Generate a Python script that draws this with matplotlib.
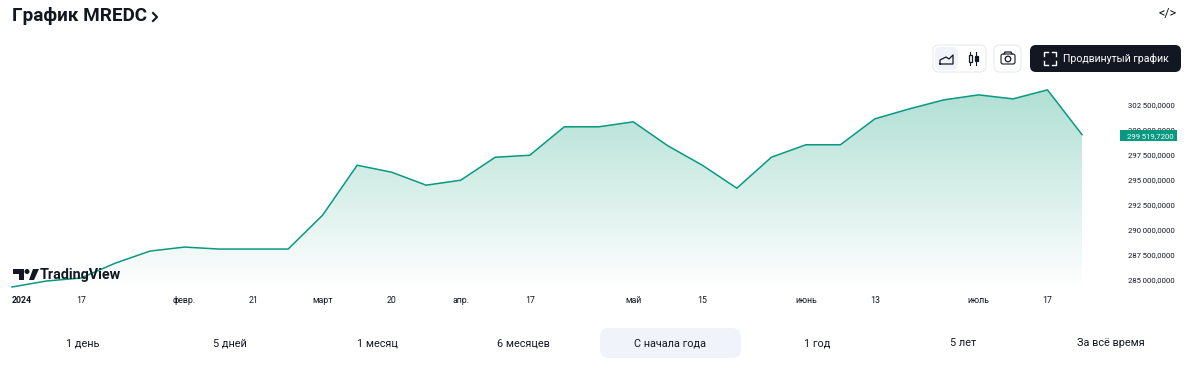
# -*- coding:utf-8 -*-
import matplotlib
matplotlib.use("Agg")
import matplotlib.pyplot as plt
import numpy as np
from matplotlib.patches import FancyBboxPatch, Polygon, Circle, Rectangle

plt.rcParams['font.family'] = ['Roboto', 'DejaVu Sans']

# weekly values, millions
values = [284.25, 284.85, 285.15, 286.65, 287.85, 288.25, 288.05, 288.05,
          288.05, 291.45, 296.45, 295.75, 294.45, 294.95, 297.25, 297.45,
          300.3, 300.3, 300.8, 298.4, 296.45, 294.15, 297.25, 298.5,
          298.5, 301.1, 302.1, 303.0, 303.5, 303.1, 304.0, 299.5197]
x_tick_pos = [0, 2, 5, 7, 9, 11, 13, 15, 18, 20, 23, 25, 28, 30]
x_tick_labels = ["2024", "17", "февр.", "21", "март", "20", "апр.", "17",
                 "май", "15", "июнь", "13", "июль", "17"]
y_ticks = [285, 287.5, 290, 292.5, 295, 297.5, 300, 302.5]
y_tick_labels = ["285\u2009000,0000", "287\u2009500,0000", "290\u2009000,0000", "292\u2009500,0000",
                 "295\u2009000,0000", "297\u2009500,0000", "300\u2009000,0000", "302\u2009500,0000"]
last_label = "299\u2009519,7200"
ranges = ["1 день", "5 дней", "1 месяц", "6 месяцев", "С начала года",
          "1 год", "5 лет", "За всё время"]
range_x = [83, 230, 377, 523, 670, 817, 963, 1111]

W, H = 1200, 375
fig = plt.figure(figsize=(12, 3.75), dpi=100)

# chart
ax = fig.add_axes([12 / W, 1 - 288 / H, (1082 - 12) / W, (288 - 80) / H])
x = np.arange(len(values))
ax.set_xlim(0, len(values) - 1)
ax.set_ylim(284.148, 304.99)

grad = np.linspace(0, 1, 256).reshape(-1, 1, 1) * np.array([1.0, 1.0, 1.0])
top = np.array([0.69, 0.875, 0.83])
img = top + (1 - top) * grad
im = ax.imshow(img, extent=(0, len(values) - 1, 284.148, 304.0), aspect='auto',
               origin='upper', zorder=1)
fill = ax.fill_between(x, values, 284.148, color='none')
im.set_clip_path(fill.get_paths()[0], transform=ax.transData)
ax.set_xlim(0, len(values) - 1)
ax.set_ylim(284.148, 304.99)
ax.plot(x, values, color="#089981", lw=1.1, zorder=2, clip_on=False)

for s in ax.spines.values():
    s.set_visible(False)
ax.set_xticks(x_tick_pos)
ax.set_xticklabels(x_tick_labels, fontsize=6.3, color="#131722")
ax.get_xticklabels()[0].set_fontweight("bold")
ax.get_xticklabels()[0].set_ha("left")
ax.yaxis.tick_right()
ax.set_yticks(y_ticks)
ax.set_yticklabels(y_tick_labels, fontsize=5.6, color="#131722")
ax.tick_params(axis='x', length=0, pad=6)
ax.tick_params(axis='y', length=0, pad=33)

# everything else in pixel coordinates
ui = fig.add_axes([0, 0, 1, 1], zorder=5)
ui.set_xlim(0, W)
ui.set_ylim(H, 0)
ui.axis('off')
ui.patch.set_alpha(0)

ui.text(12, 16, "График MREDC", fontsize=13.6, fontweight="bold",
        color="#131722", va='center')
ui.plot([153, 157, 153], [13, 17, 21], color="#131722", lw=1.5)
ui.text(1167.5, 14, "</>", fontsize=9, color="#131722", ha='center', va='center')


def box(x0, y0, w, h, fc, ec='none', r=6):
    p = FancyBboxPatch((x0 + r, y0 + r), w - 2 * r, h - 2 * r,
                       boxstyle="round,pad=%d,rounding_size=%d" % (r, r),
                       fc=fc, ec=ec, lw=0.8)
    ui.add_patch(p)


# toolbar
box(933, 45, 53, 27, "white", "#e8eaf0")
box(935, 47, 23, 23, "#f0f3fa")
box(994, 45, 27, 27, "white", "#e8eaf0")
box(1030, 45, 151, 27, "#131722")
ui.plot([940, 940, 946, 949, 953, 953, 940], [64, 60, 57, 59, 55, 64, 64],
        color="#131722", lw=0.9)
ui.plot([970, 970], [52, 65], color="#131722", lw=0.8)
ui.plot([976, 976], [52, 65], color="#131722", lw=0.8)
ui.add_patch(Rectangle((968.5, 55), 3, 7, fc="white", ec="#131722", lw=0.9, zorder=3))
ui.add_patch(Rectangle((974.5, 56), 3, 5, fc="#131722", ec="#131722", lw=0.9, zorder=3))
box(1001, 54, 14, 10, "white", "#131722", r=2)
ui.plot([1004, 1005, 1011, 1012], [54, 52, 52, 54], color="#131722", lw=0.9)
ui.add_patch(Circle((1008, 59), 2.8, fc="white", ec="#131722", lw=0.9))
for xs, ys in [([1044, 1044, 1048], [56, 52, 52]), ([1052, 1056, 1056], [52, 52, 56]),
               ([1044, 1044, 1048], [61, 65, 65]), ([1052, 1056, 1056], [65, 65, 61])]:
    ui.plot(xs, ys, color="white", lw=1)
ui.text(1063, 59, "Продвинутый график", fontsize=7.6, color="white", va='center')

# last price tag
ui.add_patch(Rectangle((1120, 130), 57, 11, fc="#089981", ec='none'))
ui.text(1127, 135.7, last_label, fontsize=5.6, color="white", va='center')

# watermark
ui.add_patch(Polygon([(13, 269), (24, 269), (24, 280), (19, 280), (19, 274), (13, 274)],
                     fc="#131722", ec='none'))
ui.add_patch(Circle((27, 271.5), 2.5, fc="#131722", ec='none'))
ui.add_patch(Polygon([(29, 280), (33, 269), (39, 269), (34, 280)], fc="#131722", ec='none'))
ui.text(40, 275, "TradingView", fontsize=10.4, fontweight="bold", color="#131722", va='center')

# range buttons
box(600, 328, 141, 30, "#f0f3fa", r=9)
for label, px in zip(ranges, range_x):
    ui.text(px, 343, label, fontsize=7.8, color="#131722", ha='center', va='center')

fig.savefig("out.png", dpi=100)
